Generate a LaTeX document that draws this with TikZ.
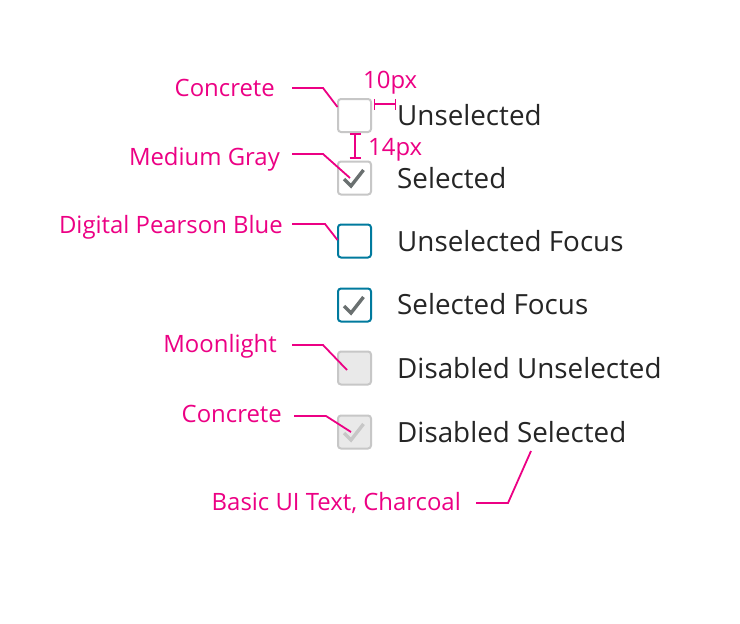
\documentclass[tikz,border=0pt]{standalone}
\usepackage{fontspec}
\setmainfont{Open Sans}
\definecolor{pink}{RGB}{236,0,132}
\definecolor{concrete}{RGB}{199,199,199}
\definecolor{moon}{RGB}{233,233,233}
\definecolor{mgray}{RGB}{106,112,112}
\definecolor{pblue}{RGB}{0,122,158}
\definecolor{charcoal}{RGB}{37,37,37}
\tikzset{
  cbox/.style={draw=concrete, line width=2pt, rounded corners=3pt, minimum width=33pt, minimum height=33pt, inner sep=0pt, fill=white},
  lbl/.style={anchor=base west, font=\fontsize{27.8}{32}\selectfont, text=charcoal, inner sep=0pt},
  ann/.style={anchor=base east, font=\fontsize{23.9}{28}\selectfont, text=pink, inner sep=0pt},
  lead/.style={draw=pink, line width=1.8pt},
  chk/.style={line width=3.4pt, line cap=butt, line join=miter}
}
\begin{document}
\begin{tikzpicture}[x=1pt,y=-1pt]
\useasboundingbox[fill=white] (0,0) rectangle (740,624);
% boxes
\node[cbox] (b1) at (354.5,115.5) {};
\node[cbox] (b2) at (354.5,178) {};
\node[cbox,draw=pblue] (b3) at (354.5,241) {};
\node[cbox,draw=pblue] (b4) at (354.5,305) {};
\node[cbox,fill=moon] (b5) at (354.5,368) {};
\node[cbox,fill=moon] (b6) at (354.5,432) {};
% checkmarks
\draw[chk,mgray] ([shift={(-10.5,1)}]b2.center) -- ([shift={(-3.5,8)}]b2.center) -- ([shift={(9,-8)}]b2.center);
\draw[chk,mgray] ([shift={(-10.5,1)}]b4.center) -- ([shift={(-3.5,8)}]b4.center) -- ([shift={(9,-8)}]b4.center);
\draw[chk,concrete] ([shift={(-10.5,1)}]b6.center) -- ([shift={(-3.5,8)}]b6.center) -- ([shift={(9,-8)}]b6.center);
% labels
\node[lbl] (l1) at (397,125) {Unselected};
\node[lbl] (l2) at (397,188) {Selected};
\node[lbl] (l3) at (397,251) {Unselected Focus};
\node[lbl] (l4) at (397,314) {Selected Focus};
\node[lbl] (l5) at (397,378) {Disabled Unselected};
\node[lbl] (l6) at (397,442) {Disabled Selected};
% annotations
\node[ann] (a1) at (275,96) {Concrete};
\node[ann] (a2) at (280,165) {Medium Gray};
\node[ann] (a3) at (283,233) {Digital Pearson Blue};
\node[ann] (a4) at (277,352) {Moonlight};
\node[ann] (a5) at (282,422) {Concrete};
\node[ann] (a6) at (461,510) {Basic UI Text, Charcoal};
\node[ann,anchor=base west] (d1) at (363,88) {10px};
\node[ann,anchor=base west] (d2) at (368,155) {14px};
% leaders
\coordinate (s1) at (292,88); \coordinate (k1) at (323,88); \coordinate (e1) at (337.5,107);
\draw[lead] (s1) -- (k1) -- (e1);
\coordinate (s2) at (292,154); \coordinate (k2) at (323,154); \coordinate (e2) at (350,178);
\draw[lead] (s2) -- (k2) -- (e2);
\coordinate (s3) at (292,224); \coordinate (k3) at (325,224); \coordinate (e3) at (337.5,240);
\draw[lead] (s3) -- (k3) -- (e3);
\coordinate (s4) at (292,345); \coordinate (k4) at (323,345); \coordinate (e4) at (347,370);
\draw[lead] (s4) -- (k4) -- (e4);
\coordinate (s5) at (294,416); \coordinate (k5) at (326,416); \coordinate (e5) at (351,432);
\draw[lead] (s5) -- (k5) -- (e5);
\coordinate (s6) at (476,503); \coordinate (k6) at (508,503); \coordinate (e6) at (531,451);
\draw[lead] (s6) -- (k6) -- (e6);
% dimension 10px
\coordinate (h1) at (374.5,104); \coordinate (h2) at (395.5,104);
\draw[lead] (h1) -- (h2);
\draw[lead] ([yshift=-5.5]h1) -- ([yshift=5.5]h1);
\draw[lead] ([yshift=-5.5]h2) -- ([yshift=5.5]h2);
% dimension 14px
\coordinate (v1) at (355,134); \coordinate (v2) at (355,158);
\draw[lead] (v1) -- (v2);
\draw[lead] ([xshift=-5.5]v1) -- ([xshift=5.5]v1);
\draw[lead] ([xshift=-5.5]v2) -- ([xshift=5.5]v2);
\end{tikzpicture}
\end{document}
